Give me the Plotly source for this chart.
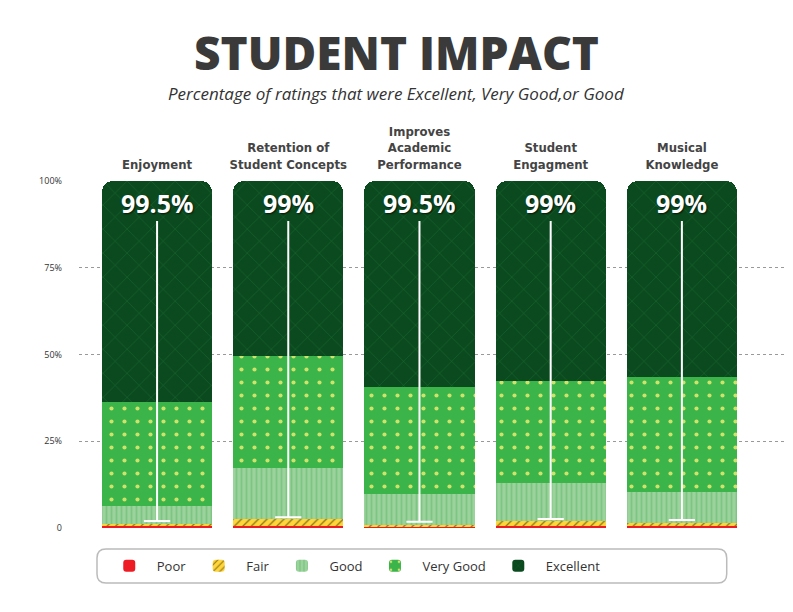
import plotly.graph_objects as go

# rating data (percent of ratings per category)
categories = ["Enjoyment", "Retention of<br>Student Concepts", "Improves<br>Academic<br>Performance",
              "Student<br>Engagment", "Musical<br>Knowledge"]
poor = [0.5, 0.5, 0.5, 0.5, 0.5]
fair = [0.6, 2.0, 0.4, 1.5, 0.9]
good = [5.2, 14.7, 8.8, 11.1, 8.9]
very_good = [29.9, 32.4, 31.0, 29.4, 33.1]
excellent = [63.8, 50.4, 59.3, 57.5, 56.6]
top_labels = ["99.5%", "99%", "99.5%", "99%", "99%"]

# white marker line for each bar (top and bottom level, in %)
marker_top = [88.5, 88.5, 88.5, 88.5, 88.5]
marker_low = [2.0, 3.1, 1.8, 2.6, 2.3]

y_ticks = [0, 25, 50, 75, 100]
y_ticktext = ["0", "25%", "50%", "75%", "100%"]

xpos = list(range(len(categories)))

series = [
    ("Poor", poor, "#ed1c24", "", "#ed1c24", 0.3, 8, 1),
    ("Fair", fair, "#ffd53a", "/", "#8c7416", 0.22, 6, 1),
    ("Good", good, "#9cd39c", "|", "#7cc582", 0.35, 5, 1),
    ("Very Good", very_good, "#3bb44a", ".", "#cfe26c", 0.08, 13, 1),
    ("Excellent", excellent, "#0b4a1f", "x", "#2e8a3d", 0.05, 17, 0.6),
]

fig = go.Figure()
for name, vals, color, shape, fg, solid, size, op in series:
    fig.add_trace(go.Bar(
        x=xpos, y=vals, name=name, width=0.84,
        marker=dict(color=color, line=dict(width=0),
                    pattern=dict(shape=shape, fgcolor=fg, bgcolor=color, fgopacity=op,
                                 fillmode="replace", solidity=solid, size=size)),
        hoverinfo="name+y",
    ))

# white T markers
lx, ly = [], []
for i in xpos:
    lx += [i, i, None, i - 0.1, i + 0.1, None]
    ly += [marker_top[i], marker_low[i], None, marker_low[i], marker_low[i], None]
fig.add_trace(go.Scatter(x=lx, y=ly, mode="lines", line=dict(color="white", width=2),
                         showlegend=False, hoverinfo="skip"))

for i in xpos:
    fig.add_annotation(x=i, y=100, yanchor="top", yshift=-3, text="<b>%s</b>" % top_labels[i],
                       showarrow=False,
                       font=dict(family="Open Sans", size=25, color="white",
                                 shadow="1px 1px 2px rgba(0,0,0,0.7)"))

fig.add_annotation(xref="paper", yref="paper", x=0.446, y=1.372, yanchor="middle",
                   text="STUDENT IMPACT", showarrow=False,
                   font=dict(family="Open Sans", size=46, weight=800, color="#3a3a3a"))
fig.add_annotation(xref="paper", yref="paper", x=0.446, y=1.252, yanchor="middle",
                   text="<i>Percentage of ratings that were Excellent, Very Good,or Good</i>",
                   showarrow=False, font=dict(family="Open Sans", size=17, color="#333333"))

# rounded legend frame
x0, x1, y0, y1 = 0.0253, 0.911, -0.0605, -0.1585
rx, ry = 9 / 711, 9 / 347
frame = (f"M{x0+rx},{y0} L{x1-rx},{y0} Q{x1},{y0} {x1},{y0-ry} L{x1},{y1+ry} Q{x1},{y1} {x1-rx},{y1} "
         f"L{x0+rx},{y1} Q{x0},{y1} {x0},{y1+ry} L{x0},{y0-ry} Q{x0},{y0} {x0+rx},{y0} Z")
fig.add_shape(type="path", xref="paper", yref="paper", path=frame,
              line=dict(color="#bbbbbb", width=1.5), fillcolor="white", layer="below")

fig.update_layout(
    width=785, height=604,
    margin=dict(l=71, r=3, t=173, b=84),
    barmode="stack", bargap=0, barcornerradius=11,
    plot_bgcolor="white", paper_bgcolor="white",
    font=dict(family="Open Sans", color="#333333"),
    xaxis=dict(range=[-0.595, 4.824], side="top", tickvals=xpos, ticktext=categories,
               tickfont=dict(family="Liberation Sans Narrow, DejaVu Sans Condensed", size=13,
                             color="#444444", weight="bold"),
               showgrid=False, zeroline=False, ticks="", ticklabelstandoff=8, fixedrange=True),
    yaxis=dict(range=[0, 100], tickvals=y_ticks, ticktext=y_ticktext,
               tickfont=dict(size=9, color="#333333"), showgrid=True, gridcolor="#999999",
               griddash="dot", gridwidth=1, zeroline=False, ticklabelstandoff=16),
    legend=dict(orientation="h", x=0.032, xanchor="left", y=-0.109, yanchor="middle",
                traceorder="normal", font=dict(size=13, color="#333333"), itemwidth=45,
                bgcolor="rgba(0,0,0,0)"),
    showlegend=True,
)

fig.write_html("out.html")
